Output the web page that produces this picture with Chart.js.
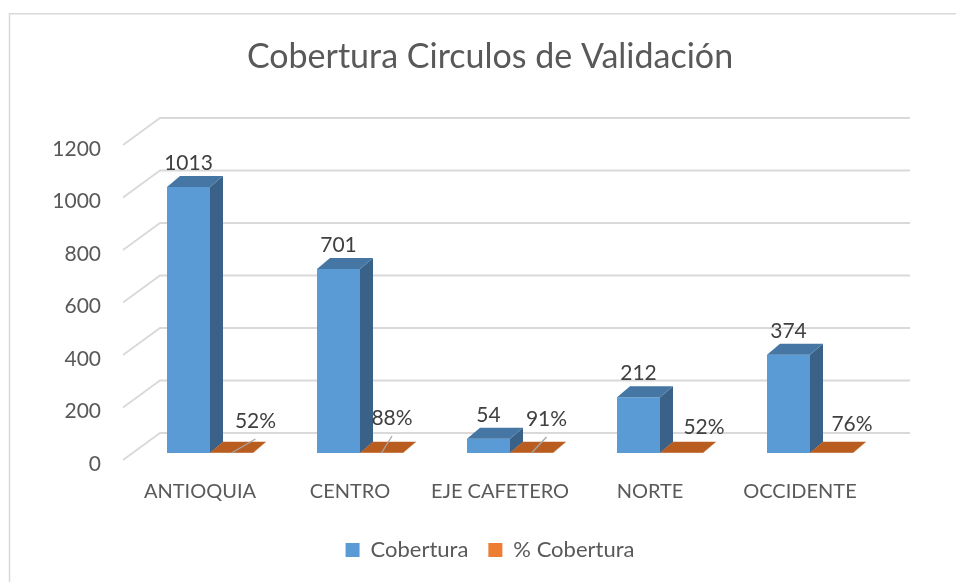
<!DOCTYPE html>
<html>
<head>
<meta charset="utf-8">
<script src="https://cdn.jsdelivr.net/npm/chart.js@4.4.1/dist/chart.umd.min.js"></script>
<style>
  html, body { margin: 0; padding: 0; background: #ffffff; }
  #wrap { width: 956px; height: 582px; position: relative; }
</style>
</head>
<body>
<div id="wrap"><canvas id="c" width="956" height="582"></canvas></div>
<script>
// ---- data ----
const categories = ['ANTIOQUIA', 'CENTRO', 'EJE CAFETERO', 'NORTE', 'OCCIDENTE'];
const cobertura = [1013, 701, 54, 212, 374];
const pctCobertura = [0.52, 0.88, 0.91, 0.52, 0.76];
const yTicks = [0, 200, 400, 600, 800, 1000, 1200];
const seriesNames = ['Cobertura', '% Cobertura'];

// ---- style / 3D geometry (not data) ----
const TEXT = '#595959';
const LABEL = '#404040';
const GRID = '#d9d9d9';
const FONT = 'Lato, "Open Sans", sans-serif';
const geo = { frontDx: -12, frontDy: 7, backDx: 25, backDy: -20, barDx: 13, barDy: -11 };
const faces = [
  { side: '#3a6288', top: '#4676a3' },
  { side: '#a5501a', top: '#b85c20' }
];
// label placement tweaks for percentage labels (dx from bar centre, dy from base, leader line)
const pctLabelPlace = [
  { dx: 24, dy: -32, leader: true },
  { dx: 10.5, dy: -35, leader: true },
  { dx: 15, dy: -34, leader: true },
  { dx: 22.5, dy: -26, leader: false },
  { dx: 20.5, dy: -29, leader: false }
];

const threeD = {
  id: 'threeD',
  beforeDraw(chart) {
    const ctx = chart.ctx;
    ctx.save();
    ctx.strokeStyle = GRID;
    ctx.lineWidth = 1.5;
    ctx.beginPath();
    ctx.moveTo(9.5, 600);
    ctx.lineTo(9.5, 13.75);
    ctx.lineTo(1000, 13.75);
    ctx.stroke();
    ctx.restore();
  },
  beforeDatasetsDraw(chart) {
    const ctx = chart.ctx, a = chart.chartArea, ys = chart.scales.y;
    ctx.save();
    ctx.strokeStyle = GRID;
    ctx.lineWidth = 1.8;
    yTicks.forEach(v => {
      const py = ys.getPixelForValue(v);
      ctx.beginPath();
      ctx.moveTo(a.left + geo.frontDx, py + geo.frontDy);
      ctx.lineTo(a.left + geo.backDx, py + geo.backDy);
      ctx.lineTo(a.right + geo.backDx, py + geo.backDy);
      ctx.stroke();
    });
    // y-axis tick labels on the front plane
    ctx.font = '21px ' + FONT;
    ctx.fillStyle = TEXT;
    ctx.textAlign = 'right';
    ctx.textBaseline = 'middle';
    yTicks.forEach(v => {
      const py = ys.getPixelForValue(v);
      ctx.fillText(String(v), a.left - 34, py + 11);
    });
    ctx.restore();
  },
  afterDatasetsDraw(chart) {
    const ctx = chart.ctx;
    ctx.save();
    chart.data.datasets.forEach((ds, di) => {
      const meta = chart.getDatasetMeta(di);
      meta.data.forEach(bar => {
        const p = bar.getProps(['x', 'y', 'base', 'width'], true);
        const l = p.x - p.width / 2, r = p.x + p.width / 2;
        const top = Math.min(p.y, p.base), base = Math.max(p.y, p.base);
        // side face
        ctx.fillStyle = faces[di].side;
        ctx.beginPath();
        ctx.moveTo(r, top);
        ctx.lineTo(r + geo.barDx, top + geo.barDy);
        ctx.lineTo(r + geo.barDx, base + geo.barDy);
        ctx.lineTo(r, base);
        ctx.closePath();
        ctx.fill();
        // top face
        ctx.fillStyle = faces[di].top;
        ctx.beginPath();
        ctx.moveTo(l, top);
        ctx.lineTo(l + geo.barDx, top + geo.barDy);
        ctx.lineTo(r + geo.barDx, top + geo.barDy);
        ctx.lineTo(r, top);
        ctx.closePath();
        ctx.fill();
      });
    });
    // data labels
    ctx.font = '21px ' + FONT;
    ctx.fillStyle = LABEL;
    ctx.textAlign = 'center';
    ctx.textBaseline = 'middle';
    const m0 = chart.getDatasetMeta(0);
    m0.data.forEach((bar, i) => {
      const p = bar.getProps(['x', 'y'], true);
      ctx.fillText(String(cobertura[i]), p.x, p.y - 24);
    });
    const m1 = chart.getDatasetMeta(1);
    m1.data.forEach((bar, i) => {
      const p = bar.getProps(['x', 'base'], true);
      const pl = pctLabelPlace[i];
      const lx = p.x + pl.dx, ly = p.base + pl.dy;
      if (pl.leader) {
        ctx.strokeStyle = '#a6a6a6';
        ctx.lineWidth = 1.3;
        ctx.beginPath();
        ctx.moveTo(p.x, p.base);
        ctx.lineTo(lx, ly + 18);
        ctx.stroke();
      }
      ctx.fillStyle = LABEL;
      ctx.fillText(Math.round(pctCobertura[i] * 100) + '%', lx, ly);
    });
    ctx.restore();
  }
};

new Chart(document.getElementById('c'), {
  type: 'bar',
  data: {
    labels: categories,
    datasets: [
      { label: seriesNames[0], data: cobertura, backgroundColor: '#5b9bd5', borderWidth: 0,
        categoryPercentage: 0.5733, barPercentage: 1.0 },
      { label: seriesNames[1], data: pctCobertura, backgroundColor: '#ed7d31', borderWidth: 0,
        categoryPercentage: 0.5733, barPercentage: 1.0 }
    ]
  },
  options: {
    responsive: false,
    animation: false,
    devicePixelRatio: 1,
    layout: { padding: { top: 0, left: 95, right: 71, bottom: 11 } },
    plugins: {
      title: {
        display: true,
        text: 'Cobertura Circulos de Validación',
        color: TEXT,
        font: { family: FONT, size: 34, weight: 'normal' },
        padding: { top: 37, bottom: 60.2 }
      },
      legend: {
        display: true,
        position: 'bottom',
        labels: {
          color: TEXT,
          font: { family: FONT, size: 22 },
          boxWidth: 14,
          boxHeight: 14,
          padding: 20
        }
      },
      tooltip: { enabled: false }
    },
    scales: {
      x: {
        grid: { display: false, drawTicks: false },
        border: { display: false },
        ticks: {
          color: TEXT,
          font: { family: FONT, size: 20 },
          padding: 27,
          labelOffset: -10,
          maxRotation: 0,
          autoSkip: false
        },
        afterFit(s) { s.height = 66; }
      },
      y: {
        min: 0,
        max: 1200,
        grid: { display: false, drawTicks: false },
        border: { display: false },
        ticks: { display: false, stepSize: 200 },
        afterFit(s) { s.width = 40; }
      }
    }
  },
  plugins: [threeD]
});
</script>
</body>
</html>
